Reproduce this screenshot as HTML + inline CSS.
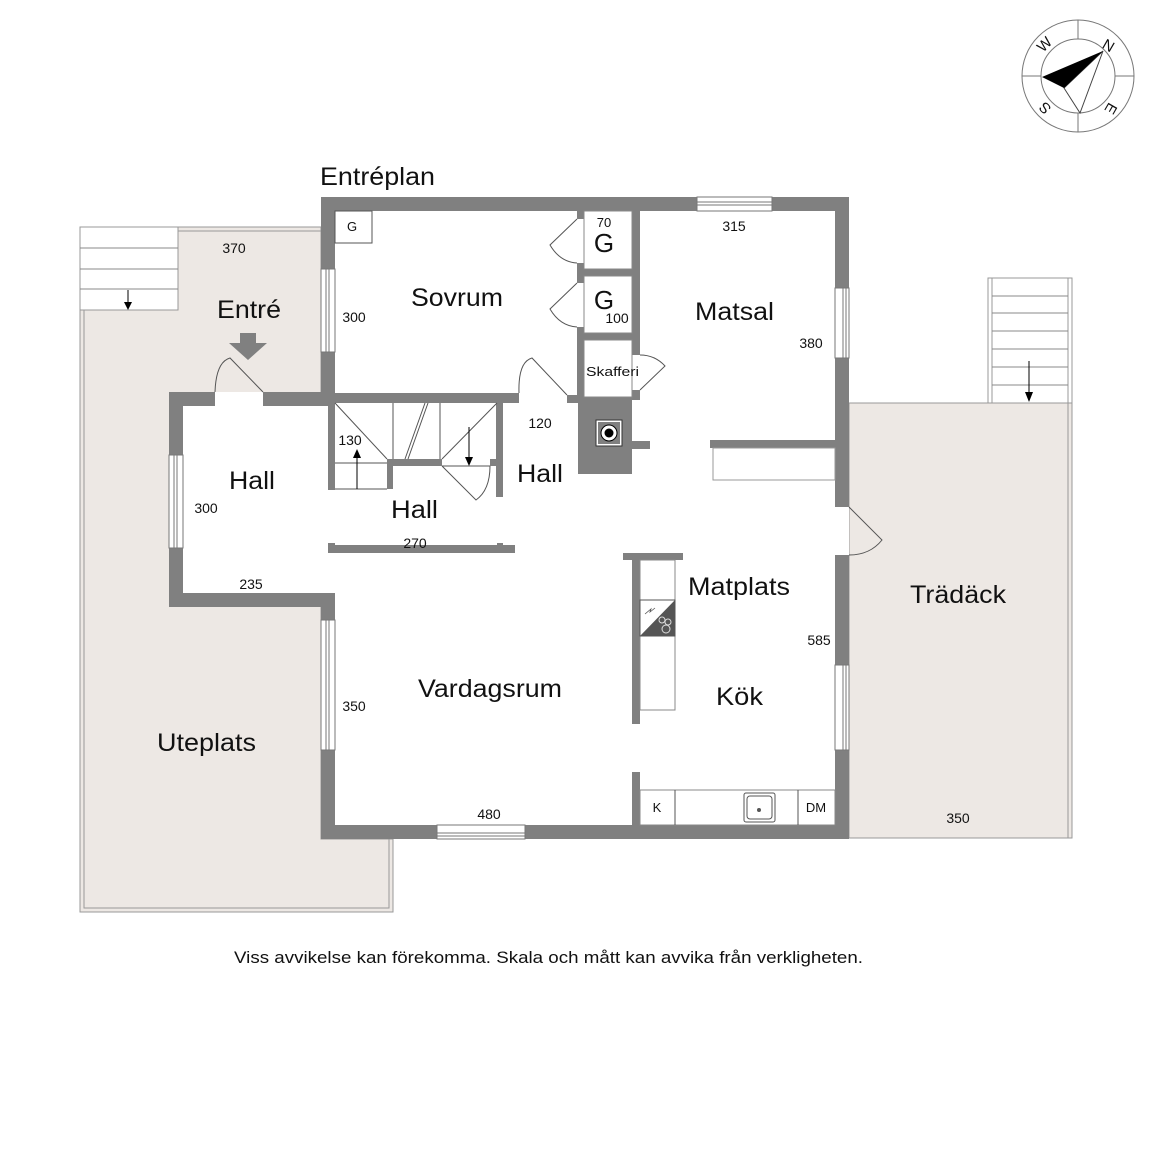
<!DOCTYPE html>
<html><head><meta charset="utf-8"><style>
html,body{margin:0;padding:0;background:#fff}
svg{display:block}
text{font-family:"Liberation Sans",Arial,sans-serif;fill:#111}
</style></head><body>
<svg width="1152" height="1152" viewBox="0 0 1152 1152" xmlns="http://www.w3.org/2000/svg">
<!-- compass -->
<g fill="none" stroke="#777" stroke-width="1">
<circle cx="1078" cy="76" r="56"/>
<circle cx="1078" cy="76" r="37"/>
<line x1="1078" y1="20" x2="1078" y2="39"/><line x1="1078" y1="113" x2="1078" y2="132"/>
<line x1="1022" y1="76" x2="1041" y2="76"/><line x1="1115" y1="76" x2="1134" y2="76"/>
<polygon points="1103,51 1080,113 1064,88" stroke="#444"/>
</g>
<polygon points="1103,51 1042,77 1064,88" fill="#000"/>
<text x="1106" y="50" font-size="15" transform="rotate(30 1106 50)" text-anchor="middle">N</text>
<text x="1048" y="48" font-size="15" transform="rotate(-45 1048 48)" text-anchor="middle">W</text>
<text x="1045" y="113" font-size="15" transform="rotate(-135 1045 108)" text-anchor="middle">S</text>
<text x="1110" y="112" font-size="15" transform="rotate(120 1110 108)" text-anchor="middle">E</text>

<!-- Uteplats deck -->
<g>
<polygon points="80,227 321,227 321,839 393,839 393,912 80,912" fill="#ede8e4" stroke="#999" stroke-width="1"/>
<polyline points="321,231 84,231 84,908 389,908 389,839" fill="none" stroke="#999" stroke-width="1"/>
<rect x="80" y="227" width="98" height="83" fill="#fff" stroke="#999"/>
<g stroke="#888"><line x1="80" y1="248" x2="178" y2="248"/><line x1="80" y1="269" x2="178" y2="269"/><line x1="80" y1="289" x2="178" y2="289"/></g>
<line x1="128" y1="290" x2="128" y2="309" stroke="#000"/><polygon points="124,302 132,302 128,310" fill="#000"/>
</g>
<!-- Trädäck -->
<g>
<rect x="849" y="403" width="223" height="435" fill="#ede8e4" stroke="#999"/>
<line x1="1068" y1="403" x2="1068" y2="838" stroke="#999"/>
<rect x="988" y="278" width="84" height="125" fill="#fff" stroke="#999"/>
<line x1="992" y1="278" x2="992" y2="403" stroke="#999"/><line x1="1068" y1="278" x2="1068" y2="403" stroke="#999"/>
<g stroke="#888"><line x1="992" y1="296" x2="1068" y2="296"/><line x1="992" y1="313" x2="1068" y2="313"/><line x1="992" y1="331" x2="1068" y2="331"/><line x1="992" y1="349" x2="1068" y2="349"/><line x1="992" y1="367" x2="1068" y2="367"/><line x1="992" y1="385" x2="1068" y2="385"/></g>
<line x1="1029" y1="361" x2="1029" y2="400" stroke="#000"/><polygon points="1025,392 1033,392 1029,402" fill="#000"/>
</g>

<!-- house interior white -->
<rect x="321" y="197" width="528" height="642" fill="#fff"/>
<rect x="169" y="392" width="166" height="215" fill="#fff"/>

<!-- walls -->
<g fill="#808080">
<rect x="321" y="197" width="528" height="14"/>
<rect x="321" y="197" width="14" height="209"/>
<rect x="835" y="197" width="14" height="310"/>
<rect x="835" y="555" width="14" height="284"/>
<rect x="321" y="825" width="528" height="14"/>
<rect x="321" y="593" width="14" height="246"/>
<rect x="169" y="392" width="46" height="14"/>
<rect x="263" y="392" width="72" height="14"/>
<rect x="169" y="392" width="14" height="215"/>
<rect x="169" y="593" width="166" height="14"/>
<rect x="335" y="393" width="184" height="10"/>
<rect x="567" y="395" width="11" height="8"/>
<rect x="577" y="211" width="7" height="8"/><rect x="577" y="263" width="7" height="20"/><rect x="577" y="327" width="7" height="20"/>
<rect x="577" y="340" width="7" height="60"/>
<rect x="632" y="211" width="8" height="144"/>
<rect x="632" y="390" width="8" height="10"/>
<rect x="584" y="269" width="48" height="7"/>
<rect x="584" y="333" width="48" height="7"/>
<rect x="578" y="397" width="54" height="77"/>
<rect x="632" y="441" width="18" height="8"/>
<rect x="710" y="440" width="125" height="8"/>
<rect x="328" y="403" width="7" height="87"/>
<rect x="496" y="403" width="7" height="94"/>
<rect x="387" y="459" width="55" height="7"/>
<rect x="387" y="459" width="6" height="30"/>
<rect x="490" y="459" width="6" height="7"/>
<rect x="328" y="545" width="187" height="8"/>
<rect x="328" y="543" width="7" height="10"/>
<rect x="497" y="543" width="6" height="10"/>
<rect x="623" y="553" width="60" height="7"/>
<rect x="632" y="553" width="8" height="171"/>
<rect x="632" y="772" width="8" height="53"/>
</g>
<rect x="596" y="420" width="26" height="26" fill="#fff" stroke="#333"/>
<rect x="598" y="422" width="22" height="22" fill="#808080"/>
<circle cx="609" cy="433" r="8" fill="#fff" stroke="#000"/><circle cx="609" cy="433" r="4.5" fill="#000"/>

<!-- windows -->
<g fill="#fff" stroke="#777" stroke-width="1">
<rect x="321" y="269" width="14" height="83"/><line x1="326" y1="269" x2="326" y2="352"/><line x1="329" y1="269" x2="329" y2="352"/>
<rect x="321" y="620" width="14" height="130"/><line x1="326" y1="620" x2="326" y2="750"/><line x1="329" y1="620" x2="329" y2="750"/>
<rect x="169" y="455" width="14" height="93"/><line x1="174" y1="455" x2="174" y2="548"/><line x1="177" y1="455" x2="177" y2="548"/>
<rect x="697" y="197" width="75" height="14"/><line x1="697" y1="202" x2="772" y2="202"/><line x1="697" y1="205" x2="772" y2="205"/>
<rect x="835" y="288" width="14" height="70"/><line x1="843" y1="288" x2="843" y2="358"/><line x1="846" y1="288" x2="846" y2="358"/>
<rect x="835" y="665" width="14" height="85"/><line x1="843" y1="665" x2="843" y2="750"/><line x1="846" y1="665" x2="846" y2="750"/>
<rect x="437" y="825" width="88" height="14"/><line x1="437" y1="833" x2="525" y2="833"/><line x1="437" y1="836" x2="525" y2="836"/>
</g>

<g fill="none" stroke="#555" stroke-width="1">
<path d="M215,392 Q216,362 230,358 L263,392"/>
<path d="M519,393 Q518,362 532,358 L567,395"/>
<path d="M577,219 L550,245 Q560,262 577,263"/>
<path d="M577,283 L550,309 Q560,326 577,327"/>
<path d="M640,355 Q655,355 665,366 L640,390"/>
<path d="M849,507 L882,540 Q870,555 849,555"/>
<rect x="335" y="211" width="37" height="32"/>
<rect x="584" y="211" width="48" height="58" stroke="#888"/>
<rect x="584" y="276" width="48" height="57" stroke="#888"/>
<rect x="584" y="340" width="48" height="57" stroke="#888"/>
<rect x="713" y="448" width="122" height="32" stroke="#999"/>
<line x1="335" y1="403" x2="387" y2="459"/><line x1="497" y1="403" x2="442" y2="459"/>
<line x1="393" y1="403" x2="393" y2="459"/><line x1="440" y1="403" x2="440" y2="459"/>
<line x1="405" y1="459" x2="425" y2="403"/><line x1="408" y1="459" x2="428" y2="403"/>
<line x1="335" y1="463" x2="387" y2="463"/><line x1="335" y1="489" x2="387" y2="489"/>
<line x1="442" y1="466" x2="490" y2="466"/>
<path d="M442,466 L476,500 Q490,490 490,466"/>
<rect x="640" y="560" width="35" height="150" stroke="#888"/>
<rect x="640" y="790" width="195" height="35" stroke="#888"/>
<line x1="675" y1="790" x2="675" y2="825"/><line x1="798" y1="790" x2="798" y2="825"/>
<rect x="744" y="793" width="31" height="29" rx="2"/><rect x="747" y="796" width="25" height="23" rx="3"/>
</g>
<line x1="357" y1="451" x2="357" y2="489" stroke="#000"/><polygon points="353,458 361,458 357,449" fill="#000"/>
<line x1="469" y1="427" x2="469" y2="464" stroke="#000"/><polygon points="465,457 473,457 469,466" fill="#000"/>
<circle cx="759" cy="810" r="2" fill="#555"/>
<rect x="640" y="600" width="35" height="36" fill="#fff" stroke="#555"/>
<polygon points="675,600 675,636 640,636" fill="#555"/>
<circle cx="662" cy="620" r="3" fill="none" stroke="#ddd"/><circle cx="668" cy="622" r="3" fill="none" stroke="#ddd"/><circle cx="666" cy="629" r="4" fill="none" stroke="#ddd"/>
<path d="M645,614 L651,609 L650,612 L655,608" fill="none" stroke="#555" stroke-width="0.8"/>
<polygon points="240,333 256,333 256,343 267,343 248,360 229,343 240,343" fill="#808080"/>

<!-- labels -->
<text x="320" y="185" font-size="25" textLength="115" lengthAdjust="spacingAndGlyphs">Entréplan</text>
<text x="217" y="318" font-size="25" textLength="64" lengthAdjust="spacingAndGlyphs">Entré</text>
<text x="234" y="253" font-size="14" text-anchor="middle">370</text>
<text x="352" y="231" font-size="13" text-anchor="middle">G</text>
<text x="411" y="306" font-size="25" textLength="92" lengthAdjust="spacingAndGlyphs">Sovrum</text>
<text x="354" y="322" font-size="14" text-anchor="middle">300</text>
<text x="604" y="227" font-size="13" text-anchor="middle">70</text>
<text x="604" y="252" font-size="26" text-anchor="middle">G</text>
<text x="604" y="309" font-size="26" text-anchor="middle">G</text>
<text x="617" y="323" font-size="14" text-anchor="middle">100</text>
<text x="586" y="376" font-size="13" textLength="53" lengthAdjust="spacingAndGlyphs">Skafferi</text>
<text x="734" y="231" font-size="14" text-anchor="middle">315</text>
<text x="695" y="320" font-size="25" textLength="79" lengthAdjust="spacingAndGlyphs">Matsal</text>
<text x="811" y="348" font-size="14" text-anchor="middle">380</text>
<text x="229" y="489" font-size="25" textLength="46" lengthAdjust="spacingAndGlyphs">Hall</text>
<text x="206" y="513" font-size="14" text-anchor="middle">300</text>
<text x="251" y="589" font-size="14" text-anchor="middle">235</text>
<text x="350" y="445" font-size="14" text-anchor="middle">130</text>
<text x="540" y="428" font-size="14" text-anchor="middle">120</text>
<text x="517" y="482" font-size="25" textLength="46" lengthAdjust="spacingAndGlyphs">Hall</text>
<text x="391" y="518" font-size="25" textLength="47" lengthAdjust="spacingAndGlyphs">Hall</text>
<text x="415" y="548" font-size="14" text-anchor="middle">270</text>
<text x="688" y="595" font-size="25" textLength="102" lengthAdjust="spacingAndGlyphs">Matplats</text>
<text x="819" y="645" font-size="14" text-anchor="middle">585</text>
<text x="716" y="705" font-size="25" textLength="47" lengthAdjust="spacingAndGlyphs">Kök</text>
<text x="418" y="697" font-size="25" textLength="144" lengthAdjust="spacingAndGlyphs">Vardagsrum</text>
<text x="354" y="711" font-size="14" text-anchor="middle">350</text>
<text x="489" y="819" font-size="14" text-anchor="middle">480</text>
<text x="657" y="812" font-size="13" text-anchor="middle">K</text>
<text x="816" y="812" font-size="13" text-anchor="middle">DM</text>
<text x="157" y="751" font-size="25" textLength="99" lengthAdjust="spacingAndGlyphs">Uteplats</text>
<text x="910" y="603" font-size="25" textLength="96" lengthAdjust="spacingAndGlyphs">Trädäck</text>
<text x="958" y="823" font-size="14" text-anchor="middle">350</text>
<text x="234" y="963" font-size="17" textLength="629" lengthAdjust="spacingAndGlyphs">Viss avvikelse kan förekomma. Skala och mått kan avvika från verkligheten.</text>
</svg>
</body></html>
